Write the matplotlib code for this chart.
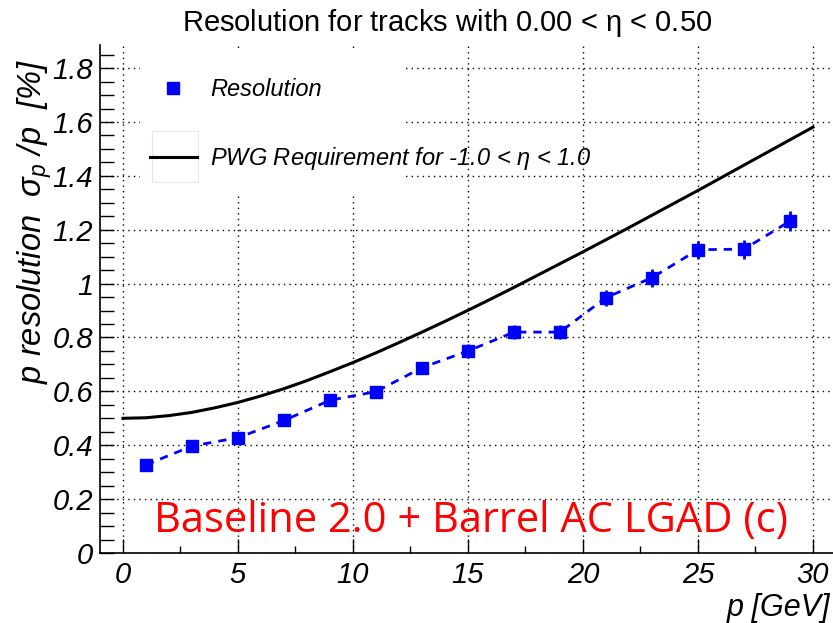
import matplotlib
matplotlib.use('Agg')
import matplotlib.pyplot as plt
from matplotlib.ticker import MultipleLocator
from matplotlib.patches import Rectangle
from matplotlib.lines import Line2D

plt.rcParams['font.family'] = ['Liberation Sans', 'DejaVu Sans']
plt.rcParams['mathtext.fontset'] = 'custom'
plt.rcParams['mathtext.rm'] = 'Liberation Sans'
plt.rcParams['mathtext.it'] = 'Liberation Sans:italic'

# data
p = [1, 3, 5, 7, 9, 11, 13, 15, 17, 19, 21, 23, 25, 27, 29]
res = [0.327, 0.397, 0.428, 0.492, 0.567, 0.599, 0.688, 0.750, 0.820,
       0.820, 0.948, 1.022, 1.126, 1.128, 1.232]
res_err = [0.012, 0.014, 0.016, 0.018, 0.020, 0.021, 0.022, 0.024, 0.025,
           0.027, 0.030, 0.033, 0.034, 0.035, 0.038]

p_req = list(range(0, 31))
req = [0.500, 0.502, 0.510, 0.522, 0.539, 0.559, 0.583, 0.610, 0.640, 0.673,
       0.707, 0.743, 0.781, 0.820, 0.860, 0.901, 0.943, 0.986, 1.030, 1.074,
       1.118, 1.163, 1.208, 1.254, 1.300, 1.346, 1.393, 1.440, 1.487, 1.534,
       1.581]

fig = plt.figure(figsize=(8.33, 6.23), dpi=100)
ax = fig.add_axes([0.120, 0.1124, 0.8836, 0.8154])

ax.set_xlim(-1, 31)
ax.set_ylim(0, 1.886)

# grid
ax.grid(True, which='major', color='black', linestyle=(0, (1, 3)), linewidth=1.0)
ax.set_axisbelow(True)

# white legend box (covers the grid)
ax.add_patch(Rectangle((0.054, 0.705), 0.358, 0.29, transform=ax.transAxes,
                       facecolor='white', edgecolor='none', zorder=1.5))
ax.add_patch(Rectangle((0.0705, 0.73), 0.0625, 0.10, transform=ax.transAxes,
                       facecolor='none', edgecolor='#e6e6e6', linewidth=0.8, zorder=1.6))

# curves
ax.plot(p_req, req, color='black', linewidth=2.2, zorder=3)
ax.errorbar(p, res, yerr=res_err, color='#0000ff', marker='s', markersize=9,
            linestyle=(0, (3, 2.5)), linewidth=2, elinewidth=2, capsize=0, zorder=4)

# ticks
ax.xaxis.set_minor_locator(MultipleLocator(2.5))
ax.yaxis.set_minor_locator(MultipleLocator(0.05))
ax.tick_params(axis='both', which='both', direction='in', width=1, labelsize=21)
ax.tick_params(axis='x', which='major', length=10, pad=6)
ax.tick_params(axis='x', which='minor', length=5)
ax.tick_params(axis='y', which='both', length=10, pad=5)
ax.set_yticks([0, 0.2, 0.4, 0.6, 0.8, 1.0, 1.2, 1.4, 1.6, 1.8])
ax.set_yticklabels(['0', '0.2', '0.4', '0.6', '0.8', '1', '1.2', '1.4', '1.6', '1.8'],
                   fontstyle='italic')
ax.set_xticks([0, 5, 10, 15, 20, 25, 30])
ax.set_xticklabels(['0', '5', '10', '15', '20', '25', '30'], fontstyle='italic')

for s in ['top', 'right']:
    ax.spines[s].set_visible(False)
for s in ['left', 'bottom']:
    ax.spines[s].set_linewidth(1.2)

# labels
fig.text(0.537, 0.963, r'Resolution for tracks with 0.00 < $\mathrm{\eta}$ < 0.50',
         ha='center', va='center', fontsize=21)
fig.text(0.042, 0.645, r'p resolution  $\sigma_{p}$ /p  [%]', rotation=90,
         ha='center', va='center', fontsize=23.5, fontstyle='italic')
fig.text(0.997, 0.024, 'p [GeV]', ha='right', va='center', fontsize=22,
         fontstyle='italic')

# legend
handles = [Line2D([], [], color='#0000ff', marker='s', markersize=9, linestyle='none'),
           Line2D([], [], color='black', linewidth=2.2)]
labels = ['Resolution', r'PWG Requirement for -1.0 < $\eta$ < 1.0']
leg = ax.legend(handles, labels, loc='upper left', bbox_to_anchor=(0.042, 0.972),
                frameon=False, fontsize=17, handlelength=2.0, handletextpad=0.55,
                labelspacing=1.85, borderpad=0.3)
for t in leg.get_texts():
    t.set_fontstyle('italic')
leg.set_zorder(5)

ax.text(0.504, 0.063, 'Baseline 2.0 + Barrel AC LGAD (c)', transform=ax.transAxes,
        ha='center', va='center', color='#ff0000', fontsize=30,
        family=['Open Sans', 'DejaVu Sans'], zorder=6)

fig.savefig('out.png', dpi=100)
